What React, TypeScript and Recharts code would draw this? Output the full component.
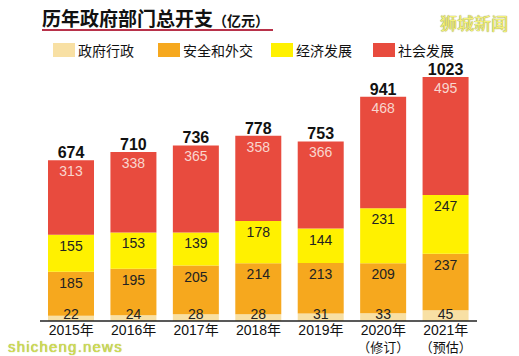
import React from 'react';
import { BarChart, Bar, XAxis, YAxis, LabelList } from 'recharts';

const years = ['2015年', '2016年', '2017年', '2018年', '2019年', '2020年', '2021年'];
const yearNotes = ['', '', '', '', '', '（修订）', '（预估）'];
const govAdmin = [22, 24, 28, 28, 31, 33, 45];
const security = [185, 195, 205, 214, 213, 209, 237];
const economic = [155, 153, 139, 178, 144, 231, 247];
const social = [313, 338, 365, 358, 366, 468, 495];
const totals = [674, 710, 736, 778, 753, 941, 1023];

const seriesNames = ['政府行政', '安全和外交', '经济发展', '社会发展'];
const seriesColors = ['#F8E0A4', '#F6A81E', '#FFF100', '#E84B3E'];

const data = years.map((y, i) => ({
  year: y,
  note: yearNotes[i],
  gov: govAdmin[i],
  sec: security[i],
  eco: economic[i],
  soc: social[i],
  total: totals[i],
}));

const FONT = "'Liberation Sans', 'Noto Sans CJK SC', sans-serif";
const CJK = "'Noto Sans CJK SC', 'Liberation Sans', sans-serif";

const makeSegLabel = (color: string) => (props: any) => {
  const { x, y, width, height, value } = props;
  const cx = Number(x) + Number(width) / 2;
  const cy = Math.min(Number(y) + 11, Number(y) + Number(height) - 7);
  return (
    <text x={cx} y={cy} dy={5} textAnchor="middle" fill={color} fontSize={14} fontFamily={FONT}>
      {value}
    </text>
  );
};

const TotalLabel = (props: any) => {
  const { x, y, width, index } = props;
  const cx = Number(x) + Number(width) / 2;
  return (
    <text x={cx} y={Number(y) - 8} dy={6} textAnchor="middle" fill="#111" fontSize={16} fontWeight="bold" fontFamily={FONT}>
      {totals[index]}
    </text>
  );
};

const Tick = (props: any) => {
  const { x, payload } = props;
  const idx = payload.index;
  const note = yearNotes[idx];
  return (
    <g>
      <text x={x} y={330} dy={5} textAnchor="middle" fill="#111" fontSize={14} fontFamily={FONT}>
        {payload.value}
      </text>
      {note ? (
        <text x={x} y={347} dy={5} textAnchor="middle" fill="#111" fontSize={13} fontFamily={CJK}>
          {note}
        </text>
      ) : null}
    </g>
  );
};

export default function App() {
  return (
    <div style={{ position: 'absolute', left: 0, top: 0, width: 519, height: 356, background: '#fff', overflow: 'hidden' }}>
      <div style={{ position: 'absolute', left: 42, top: 4, fontFamily: CJK, whiteSpace: 'nowrap', lineHeight: '28px' }}>
        <span style={{ fontSize: 19, fontWeight: 'bold', color: '#111' }}>历年政府部门总开支</span>
        <span style={{ fontSize: 14, fontWeight: 'bold', color: '#111' }}>（亿元）</span>
      </div>
      <div style={{ position: 'absolute', left: 42, top: 29, width: 231, height: 1.5, background: '#B8324A' }} />
      <div style={{ position: 'absolute', left: 440, top: 11, fontFamily: CJK, fontSize: 17, color: '#F4F27A', whiteSpace: 'nowrap', lineHeight: '24px', textShadow: '0 0 1px #9a9a40, 0 0 1px #9a9a40' }}>
        狮城新闻
      </div>
      {[53, 158, 271, 373].map((lx, i) => (
        <React.Fragment key={i}>
          <div style={{ position: 'absolute', left: lx, top: 43, width: 22, height: 14, background: seriesColors[i] }} />
          <div style={{ position: 'absolute', left: lx + 25, top: 40, fontFamily: CJK, fontSize: 14, color: '#111', whiteSpace: 'nowrap', lineHeight: '20px' }}>
            {seriesNames[i]}
          </div>
        </React.Fragment>
      ))}
      <div style={{ position: 'absolute', left: 0, top: 0 }}>
        <BarChart width={519} height={356} data={data} margin={{ top: 59, right: 42, bottom: 5, left: 40 }} barSize={46}>
          <XAxis dataKey="year" axisLine={{ stroke: '#222', strokeWidth: 1.5 }} tickLine={false} tick={<Tick />} height={30} interval={0} />
          <YAxis hide domain={[0, 1100]} />
          <Bar dataKey="gov" stackId="a" fill={seriesColors[0]} isAnimationActive={false}>
            <LabelList dataKey="gov" content={makeSegLabel('#222')} />
          </Bar>
          <Bar dataKey="sec" stackId="a" fill={seriesColors[1]} isAnimationActive={false}>
            <LabelList dataKey="sec" content={makeSegLabel('#222')} />
          </Bar>
          <Bar dataKey="eco" stackId="a" fill={seriesColors[2]} isAnimationActive={false}>
            <LabelList dataKey="eco" content={makeSegLabel('#222')} />
          </Bar>
          <Bar dataKey="soc" stackId="a" fill={seriesColors[3]} isAnimationActive={false}>
            <LabelList dataKey="soc" content={makeSegLabel('#F9D6CE')} />
            <LabelList dataKey="total" content={TotalLabel} />
          </Bar>
        </BarChart>
      </div>
      <div style={{ position: 'absolute', left: 8, top: 339, fontFamily: FONT, fontSize: 15, letterSpacing: 1.2, color: '#D4DE50', whiteSpace: 'nowrap', lineHeight: '15px', textShadow: '0 0 1px #8a9a30' }}>
        shicheng.news
      </div>
    </div>
  );
}
